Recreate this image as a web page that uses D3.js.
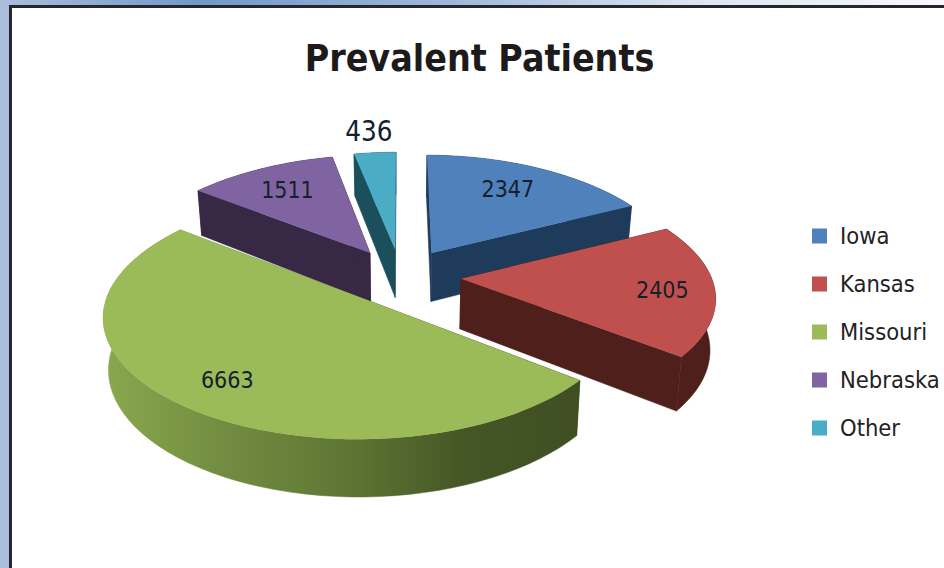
<!DOCTYPE html>
<html>
<head>
<meta charset="utf-8">
<script src="https://d3js.org/d3.v7.min.js"></script>
<style>
    html, body { margin: 0; padding: 0; background: #fff; }
    svg { display: block; }
    text { font-family: "DejaVu Sans Condensed", "DejaVu Sans", sans-serif; fill: #1a1a1a; }
    .title { font-weight: bold; font-size: 37.2px; fill: #1c1a1b; }
    .value { font-size: 23px; fill: #14202c; }
    .legend-label { font-size: 23.5px; fill: #222; }
</style>
</head>
<body>
<svg id="chart" width="944" height="568"></svg>
<script>
// Chart values
var categories = ["Iowa", "Kansas", "Missouri", "Nebraska", "Other"];
var patients = [2347, 2405, 6663, 1511, 436];
var topColours = ["#4f81bd", "#c0504d", "#9bbb59", "#8064a2", "#4bacc6"];
var sideColours = ["#1f3b5c", "#4f1f1c", "url(#missouriSide)", "#372845", "#1c4f5c"];

// Pie placement on the page
var centre = { x: 401, y: 276 };
var radius = 250;
var tilt = 0.464;         // vertical squash of the disc
var perspectiveX = 0.145; // width growth towards the viewer
var perspectiveY = 0.13;  // height growth towards the viewer
var depth = 50;           // thickness of the slices
var explode = 0.24;       // slices pulled out from the centre

function project(u, v, level) {
    /*
     * Turns a point on the unit disc into page coordinates,
     * level 0 is the top face and level 1 the bottom face
     */
    var sx = 1 + perspectiveX * v;
    var sy = 1 / (1 - perspectiveY * v);
    return [
        centre.x + radius * u * sx * (1 - 0.018 * level),
        centre.y + radius * tilt * v * sy + level * depth * (1 + 0.13 * v)
    ];
}

function slicePoint(slice, angle, r, level) {
    // Point at an angle and radius inside an exploded slice
    var mid = (slice.startAngle + slice.endAngle) / 2;
    var u = explode * Math.sin(mid) + r * Math.sin(angle);
    var v = -explode * Math.cos(mid) - r * Math.cos(angle);
    return project(u, v, level);
}

function arcPoints(slice, level) {
    return d3.range(0, 61).map(function(i) {
        var angle = slice.startAngle + (slice.endAngle - slice.startAngle) * i / 60;
        return slicePoint(slice, angle, 1, level);
    });
}

var svg = d3.select("#chart");
var line = d3.line();
var defs = svg.append("defs");

// Page background behind the frame
var topBand = defs.append("linearGradient").attr("id", "topBand");
[["0%", "#abbedc"], ["21%", "#7099c8"], ["48%", "#9fb8da"], ["74%", "#dce5f2"], ["100%", "#f8f9fc"]].forEach(function(stop) {
    topBand.append("stop").attr("offset", stop[0]).attr("stop-color", stop[1]);
});

var missouriSide = defs.append("linearGradient")
    .attr("id", "missouriSide")
    .attr("gradientUnits", "userSpaceOnUse")
    .attr("x1", 110).attr("x2", 578).attr("y1", 0).attr("y2", 0);
[["0%", "#88a64d"], ["25%", "#718c40"], ["50%", "#5f7735"], ["75%", "#465726"], ["100%", "#3f4f22"]].forEach(function(stop) {
    missouriSide.append("stop").attr("offset", stop[0]).attr("stop-color", stop[1]);
});

svg.append("rect").attr("width", 944).attr("height", 568).attr("fill", "#abbedc");
svg.append("rect").attr("width", 944).attr("height", 7).attr("fill", "url(#topBand)");
svg.append("rect")
    .attr("x", 10.5).attr("y", 6.5)
    .attr("width", 960).attr("height", 600)
    .attr("fill", "#fff")
    .attr("stroke", "#26262c")
    .attr("stroke-width", 3);

svg.append("text")
    .attr("class", "title")
    .attr("x", 479.5)
    .attr("y", 71)
    .attr("text-anchor", "middle")
    .text("Prevalent Patients");

var pie = d3.pie().sort(null);
var slices = pie(patients);

// Back slices first so the nearer ones paint over them
var drawOrder = [3, 4, 0, 1, 2];
var pieGroup = svg.append("g").attr("class", "pie");

drawOrder.forEach(function(i) {
    var slice = slices[i];
    var g = pieGroup.append("g").attr("class", "slice-" + categories[i]);
    var side = sideColours[i];

    // Radial walls
    [slice.startAngle, slice.endAngle].forEach(function(angle) {
        var wall = [
            slicePoint(slice, angle, 0, 0),
            slicePoint(slice, angle, 1, 0),
            slicePoint(slice, angle, 1, 1),
            slicePoint(slice, angle, 0, 1)
        ];
        g.append("path")
            .attr("d", line(wall) + "Z")
            .attr("fill", side)
            .attr("stroke", side)
            .attr("stroke-width", 0.5);
    });

    // Curved outer wall
    var outer = arcPoints(slice, 0).concat(arcPoints(slice, 1).reverse());
    g.append("path")
        .attr("d", line(outer) + "Z")
        .attr("fill", side)
        .attr("stroke", side)
        .attr("stroke-width", 0.5);

    // Top face
    g.append("path")
        .attr("d", line([slicePoint(slice, slice.startAngle, 0, 0)].concat(arcPoints(slice, 0))) + "Z")
        .attr("fill", topColours[i]);
});

// Value labels, thin slices get theirs outside the pie
var total = d3.sum(patients);
var labelShift = [-8, 9, -3, 3, -2];
slices.forEach(function(slice, i) {
    var mid = (slice.startAngle + slice.endAngle) / 2;
    var outside = patients[i] / total < 0.05;
    var p = slicePoint(slice, mid, outside ? 1.27 : 0.76, 0);
    svg.append("text")
        .attr("class", "value")
        .attr("x", p[0] + labelShift[i])
        .attr("y", p[1] + (outside ? 1 : 2))
        .attr("dy", "0.36em")
        .attr("text-anchor", "middle")
        .style("font-size", outside ? "27.5px" : null)
        .text(patients[i]);
});

// Legend
var legendY = d3.scalePoint()
    .domain(categories)
    .range([236, 428]);

var legend = svg.selectAll(".legend")
    .data(categories)
    .enter()
    .append("g")
    .attr("class", "legend")
    .attr("transform", function(d) {
        return "translate(812, " + legendY(d) + ")";
    });

legend.append("rect")
    .attr("x", 0)
    .attr("y", -7.5)
    .attr("width", 15)
    .attr("height", 15)
    .attr("fill", function(d, i) {
        return topColours[i];
    });

legend.append("text")
    .attr("class", "legend-label")
    .attr("x", 28)
    .attr("dy", "0.36em")
    .text(function(d) {
        return d;
    });
</script>
</body>
</html>
